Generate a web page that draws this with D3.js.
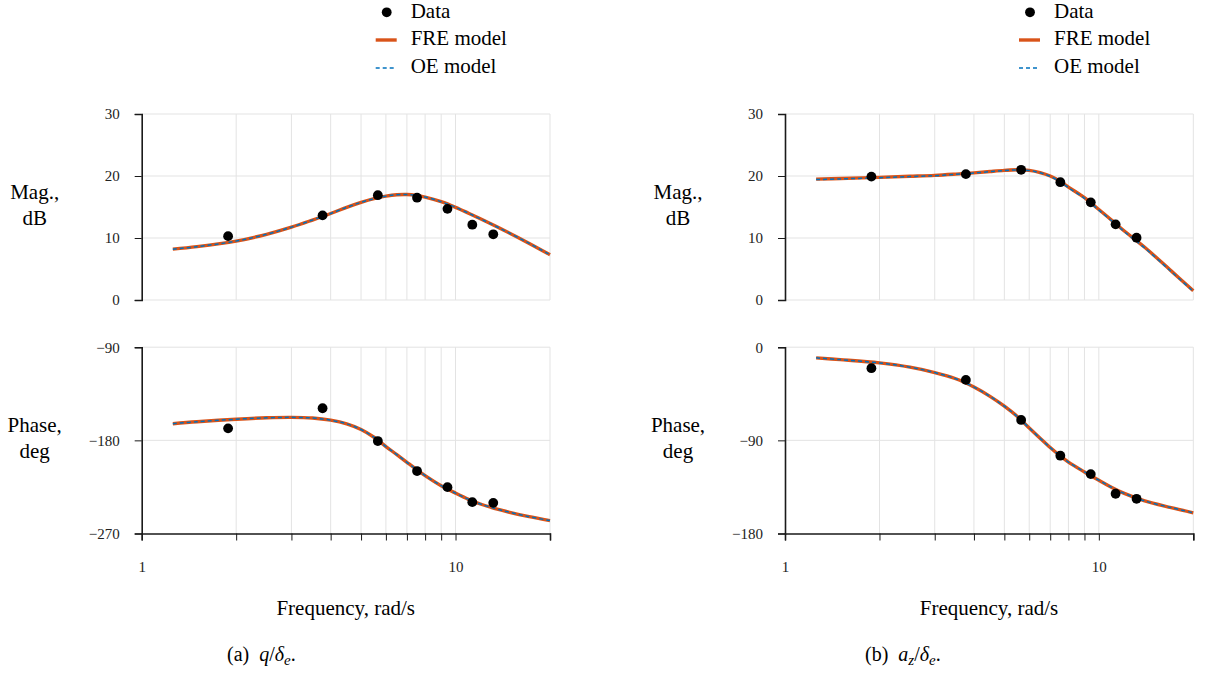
<!DOCTYPE html>
<html>
<head>
<meta charset="utf-8">
<script src="https://cdn.jsdelivr.net/npm/d3@7"></script>
<style>
  html, body { margin: 0; padding: 0; background: #ffffff; }
  svg, svg text { font-family: "Liberation Serif", "Tinos", "Times New Roman", "Times", "Noto Serif", "DejaVu Serif", serif; }
</style>
</head>
<body>
<svg id="chart" width="1206" height="675"></svg>
<script>
// ---------- data ----------
const freqData   = [1.885, 3.770, 5.655, 7.540, 9.425, 11.31, 13.19];   // rad/s
const qMagData   = [10.3, 13.65, 16.9, 16.5, 14.7, 12.15, 10.6];        // dB
const qPhaseData = [-168.4, -149, -180.7, -209.7, -225.2, -239.7, -240.4];
const azMagData  = [19.9, 20.3, 21.0, 19.0, 15.75, 12.2, 10.05];
const azPhaseData= [-20.3, -31.6, -70.3, -104.8, -122.6, -141.6, -146.5];

const freqModel  = [1.2566, 1.5, 2, 2.5, 3, 3.5, 4, 4.5, 5, 5.5, 6, 6.5, 7, 7.5, 8, 9, 10, 11, 12, 14, 17, 20];
const qMagFRE    = [8.2, 8.6, 9.5, 10.6, 11.75, 12.9, 13.95, 14.95, 15.75, 16.35, 16.75, 16.98, 17.02, 16.88, 16.6, 15.85, 14.95, 14.0, 13.1, 11.45, 9.25, 7.3];
const qMagOE     = [8.2, 8.6, 9.5, 10.6, 11.75, 12.9, 13.95, 14.95, 15.75, 16.35, 16.75, 16.98, 17.02, 16.88, 16.6, 15.85, 14.95, 14.0, 13.1, 11.45, 9.25, 7.3];
const qPhaseFRE  = [-163.9, -162.0, -159.6, -158.2, -157.8, -158.4, -160.5, -164.0, -169.5, -177.0, -186.0, -193.8, -201.2, -208.0, -214.0, -223.8, -231.0, -237.0, -241.5, -247.5, -253.5, -257.5];
const qPhaseOE   = [-163.9, -162.0, -159.6, -158.2, -157.8, -158.4, -160.5, -164.0, -169.5, -177.0, -186.0, -193.8, -201.2, -208.0, -214.0, -223.8, -231.0, -237.0, -241.5, -247.5, -253.5, -257.5];
const azMagFRE   = [19.5, 19.6, 19.78, 19.95, 20.1, 20.3, 20.5, 20.72, 20.9, 21.0, 20.9, 20.55, 20.0, 19.2, 18.2, 16.5, 14.6, 12.85, 11.2, 8.5, 4.7, 1.5];
const azMagOE    = [19.42, 19.53, 19.72, 19.9, 20.05, 20.26, 20.47, 20.7, 20.88, 20.98, 20.88, 20.52, 19.95, 19.13, 18.12, 16.4, 14.5, 12.75, 11.1, 8.4, 4.6, 1.4];
const azPhaseFRE = [-10.3, -12.0, -15.2, -19.3, -24.5, -30.5, -38.5, -47.5, -57.0, -67.0, -78.0, -88.0, -97.0, -104.6, -111.0, -120.5, -128.5, -135.5, -141.0, -148.5, -155.0, -160.0];
const azPhaseOE  = [-10.3, -12.0, -15.2, -19.3, -24.5, -30.5, -38.5, -47.5, -57.0, -67.0, -78.0, -88.0, -97.0, -104.6, -111.0, -120.5, -128.5, -135.5, -141.0, -148.5, -155.0, -160.0];

const xTickValues   = [1, 2, 3, 4, 5, 6, 7, 8, 9, 10, 20];
const xTickLabels   = {1: "1", 10: "10"};
const magTicks      = [0, 10, 20, 30];
const qPhaseTicks   = [-270, -180, -90];
const azPhaseTicks  = [-180, -90, 0];
const legendLabels  = ["Data", "FRE model", "OE model"];

// ---------- style ----------
const ORANGE = "#D95319";
const BLUE = "#0072BD";
const GRID = "#e3e3e3";
const AXIS = "#1a1a1a";
const SERIF = '"Liberation Serif", "Tinos", "Times New Roman", "Times", "Noto Serif", "DejaVu Serif", serif';

const svg = d3.select("#chart");

function fmtNum(v) { return v < 0 ? "\u2212" + Math.abs(v) : String(v); }

function drawPlot(g, x, y, yTicks, freq, dataVals, modelFRE, modelOE, isBottom) {
  const [x0, x1] = x.range();
  const [yb, yt] = y.range();

  g.append("g").selectAll("line").data(xTickValues.filter(v => v > 1))
    .join("line")
    .attr("x1", d => x(d)).attr("x2", d => x(d))
    .attr("y1", yt).attr("y2", yb)
    .attr("stroke", GRID).attr("stroke-width", 1);
  g.append("g").selectAll("line").data(yTicks.filter(v => v !== y.domain()[0]))
    .join("line")
    .attr("x1", x0).attr("x2", x1)
    .attr("y1", d => y(d)).attr("y2", d => y(d))
    .attr("stroke", GRID).attr("stroke-width", 1);

  if (isBottom) {
    const ax = d3.axisBottom(x).tickValues(xTickValues).tickSize(7).tickFormat(d => xTickLabels[d] || "");
    const a = g.append("g").attr("transform", `translate(0,${yb})`).call(ax);
    a.attr("font-family", SERIF);
    a.select(".domain").attr("stroke", AXIS).attr("stroke-width", 1.6);
    a.selectAll(".tick line").attr("stroke", AXIS).attr("stroke-width", 1);
    a.selectAll(".tick text").attr("font-size", 15).attr("fill", "#222")
      .attr("font-family", SERIF).attr("dy", "1.9em");
  } else {
    g.append("line").attr("x1", x0).attr("x2", x1).attr("y1", yb).attr("y2", yb)
      .attr("stroke", GRID).attr("stroke-width", 1.2);
  }

  const ay = d3.axisLeft(y).tickValues(yTicks).tickSize(7).tickPadding(15).tickFormat(fmtNum);
  const a2 = g.append("g").attr("transform", `translate(${x0},0)`).call(ay);
  a2.attr("font-family", SERIF);
  a2.select(".domain").attr("stroke", AXIS).attr("stroke-width", 1.6);
  a2.selectAll(".tick line").attr("stroke", AXIS).attr("stroke-width", 1);
  a2.selectAll(".tick text").attr("font-size", 15).attr("fill", "#222")
    .attr("font-family", SERIF);

  const line = d3.line().curve(d3.curveCatmullRom.alpha(0.5))
    .x((d, i) => x(freqModel[i])).y(d => y(d));

  g.append("path").attr("d", line(modelFRE)).attr("fill", "none")
    .attr("stroke", ORANGE).attr("stroke-width", 3.4).attr("stroke-linecap", "butt");
  g.append("path").attr("d", line(modelOE)).attr("fill", "none")
    .attr("stroke", BLUE).attr("stroke-width", 1.5).attr("stroke-dasharray", "4,3");

  g.append("g").selectAll("circle").data(dataVals).join("circle")
    .attr("cx", (d, i) => x(freq[i])).attr("cy", d => y(d))
    .attr("r", 4.9).attr("fill", "#000");
}

function drawPanel(cfg) {
  const g = svg.append("g").attr("font-family", SERIF);
  const x = d3.scaleLog().domain([1, 20]).range([cfg.left, cfg.left + 408.3]);
  const yMag = d3.scaleLinear().domain([0, 30]).range([300, 114]);
  const yPh = d3.scaleLinear().domain(cfg.phaseDomain).range([533.5, 347.2]);

  drawPlot(g, x, yMag, magTicks, freqData, cfg.magData, cfg.magFRE, cfg.magOE, false);
  drawPlot(g, x, yPh, cfg.phaseTicks, freqData, cfg.phaseData, cfg.phaseFRE, cfg.phaseOE, true);

  const lx = cfg.left - 107;
  const ylab = [["Mag.,", 199], ["dB", 225], ["Phase,", 432], ["deg", 458]];
  g.append("g").selectAll("text").data(ylab).join("text")
    .attr("x", lx).attr("y", d => d[1]).attr("text-anchor", "middle")
    .attr("font-size", 21).text(d => d[0]);

  g.append("text").attr("x", cfg.left + 204).attr("y", 615).attr("text-anchor", "middle")
    .attr("font-size", 21).text("Frequency, rad/s");

  const lgx = cfg.left + 245;
  const lg = g.append("g");
  lg.selectAll("text").data(legendLabels).join("text")
    .attr("x", lgx + 24).attr("y", (d, i) => 17.5 + i * 27.8)
    .attr("font-size", 21).text(d => d);
  lg.append("circle").attr("cx", lgx).attr("cy", 12.3).attr("r", 4.9).attr("fill", "#000");
  lg.append("line").attr("x1", lgx - 11).attr("x2", lgx + 10).attr("y1", 40).attr("y2", 40)
    .attr("stroke", ORANGE).attr("stroke-width", 3.4);
  lg.append("line").attr("x1", lgx - 11).attr("x2", lgx + 10).attr("y1", 68).attr("y2", 68)
    .attr("stroke", BLUE).attr("stroke-width", 1.5).attr("stroke-dasharray", "4,3");

  const cap = g.append("text").attr("x", cfg.capX).attr("y", 661).attr("font-size", 20);
  cfg.caption(cap);
}

drawPanel({
  left: 141.7,
  phaseDomain: [-270, -90], phaseTicks: qPhaseTicks,
  magData: qMagData, magFRE: qMagFRE, magOE: qMagOE,
  phaseData: qPhaseData, phaseFRE: qPhaseFRE, phaseOE: qPhaseOE,
  capX: 227,
  caption: t => {
    t.append("tspan").text("(a)\u2002");
    t.append("tspan").attr("font-style", "italic").text("q");
    t.append("tspan").text("/");
    t.append("tspan").attr("font-style", "italic").text("\u03B4");
    t.append("tspan").attr("font-style", "italic").attr("font-size", 15).attr("dy", 4).text("e");
    t.append("tspan").attr("dy", -4).text(".");
  }
});

drawPanel({
  left: 785,
  phaseDomain: [-180, 0], phaseTicks: azPhaseTicks,
  magData: azMagData, magFRE: azMagFRE, magOE: azMagOE,
  phaseData: azPhaseData, phaseFRE: azPhaseFRE, phaseOE: azPhaseOE,
  capX: 865,
  caption: t => {
    t.append("tspan").text("(b)\u2002");
    t.append("tspan").attr("font-style", "italic").text("a");
    t.append("tspan").attr("font-style", "italic").attr("font-size", 15).attr("dy", 4).text("z");
    t.append("tspan").attr("dy", -4).text("/");
    t.append("tspan").attr("font-style", "italic").text("\u03B4");
    t.append("tspan").attr("font-style", "italic").attr("font-size", 15).attr("dy", 4).text("e");
    t.append("tspan").attr("dy", -4).text(".");
  }
});
</script>
</body>
</html>
